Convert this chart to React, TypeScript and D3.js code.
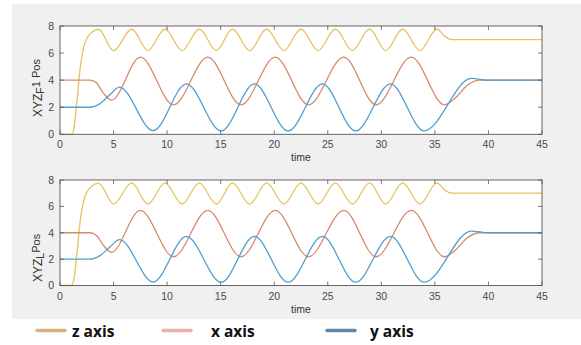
import React from "react";
import * as d3 from "d3";

// ---- data (time, value) ----
const zSeries: [number, number][] = [
  [0, 0], [1.1, 0], [1.3, 0.5], [1.6, 2.6], [1.9, 5.0], [2.2, 6.4], [2.6, 7.2], [3.0, 7.55], [3.6, 7.76],
  [5.0, 6.18], [6.7, 7.78], [8.2, 6.18], [9.8, 7.78], [11.4, 6.18], [13.0, 7.78], [14.6, 6.18],
  [16.1, 7.78], [17.7, 6.18], [19.3, 7.78], [20.9, 6.18], [22.5, 7.78], [24.1, 6.18], [25.7, 7.78],
  [27.3, 6.18], [28.9, 7.78], [30.4, 6.18], [32.0, 7.78], [33.6, 6.18], [35.2, 7.78], [35.9, 7.25],
  [36.6, 7.0], [45, 7.0],
];
const xSeries: [number, number][] = [
  [0, 4], [2.8, 4], [3.4, 3.8], [4.0, 3.1], [4.8, 2.52], [7.5, 5.7], [10.6, 2.18], [13.8, 5.7],
  [16.9, 2.18], [20.1, 5.7], [23.2, 2.18], [26.5, 5.7], [29.5, 2.18], [32.8, 5.7], [35.9, 2.18],
  [37.0, 2.75], [38.0, 3.6], [39.2, 4.0], [45, 4.0],
];
const ySeries: [number, number][] = [
  [0, 2], [2.8, 2], [3.7, 2.25], [4.7, 2.95], [5.55, 3.48], [8.7, 0.27], [11.8, 3.72], [15.05, 0.25],
  [18.15, 3.72], [21.3, 0.25], [24.5, 3.72], [27.6, 0.25], [30.85, 3.72], [34.0, 0.25], [38.4, 4.13],
  [40.0, 4.0], [45, 4.0],
];
const xTicks = [0, 5, 10, 15, 20, 25, 30, 35, 40, 45];
const yTicks = [0, 2, 4, 6, 8];
const seriesNames = ["z axis", "x axis", "y axis"];
const lineColors = ["#e6c35e", "#d98a6c", "#4f9fcf"];
const legendColors = ["#d6b57c", "#ecb0a8", "#5b88ad"];

const W = 581;
const H = 345;
const LEFT = 60;
const RIGHT = 542;

const panels = [
  { top: 26, bottom: 134.3, sub: "F", rest: "1 Pos", labelY: 117, tickY: 148, timeY: 160.5 },
  { top: 180, bottom: 285.5, sub: "L", rest: "Pos", labelY: 282, tickY: 300, timeY: 313 },
];

function Panel({ p }: { p: typeof panels[number] }) {
  const x = d3.scaleLinear().domain([0, 45]).range([LEFT, RIGHT]);
  const y = d3.scaleLinear().domain([0, 8]).range([p.bottom, p.top]);
  const line = d3
    .line<[number, number]>()
    .x((d) => x(d[0]))
    .y((d) => y(d[1]))
    .curve(d3.curveMonotoneX);
  const data = [zSeries, xSeries, ySeries];
  const tl = 4;
  const font = "'Liberation Sans', Arial, sans-serif";
  return (
    <g>
      <rect x={LEFT} y={p.top} width={RIGHT - LEFT} height={p.bottom - p.top} fill="#ffffff" />
      {data.map((d, i) => (
        <path key={i} d={line(d) || ""} fill="none" stroke={lineColors[i]} strokeWidth={1.3} />
      ))}
      <rect x={LEFT} y={p.top} width={RIGHT - LEFT} height={p.bottom - p.top} fill="none" stroke="#555" strokeWidth={0.9} />
      {xTicks.map((t) => (
        <g key={"x" + t}>
          <line x1={x(t)} x2={x(t)} y1={p.bottom} y2={p.bottom - tl} stroke="#555" strokeWidth={0.8} />
          <line x1={x(t)} x2={x(t)} y1={p.top} y2={p.top + tl} stroke="#555" strokeWidth={0.8} />
          <text x={x(t)} y={p.tickY} textAnchor="middle" fontFamily={font} fontSize={10.5} fill="#4a4a4a">
            {t}
          </text>
        </g>
      ))}
      {yTicks.map((t) => (
        <g key={"y" + t}>
          <line x1={LEFT} x2={LEFT + tl} y1={y(t)} y2={y(t)} stroke="#555" strokeWidth={0.8} />
          <line x1={RIGHT} x2={RIGHT - tl} y1={y(t)} y2={y(t)} stroke="#555" strokeWidth={0.8} />
          <text x={54} y={y(t)} dy="0.36em" textAnchor="end" fontFamily={font} fontSize={10.5} fill="#4a4a4a">
            {t}
          </text>
        </g>
      ))}
      <text x={(LEFT + RIGHT) / 2} y={p.timeY} textAnchor="middle" fontFamily={font} fontSize={10.5} fill="#333">
        time
      </text>
      <text
        transform={`translate(41.5,${p.labelY}) rotate(-90)`}
        fontFamily={font}
        fontSize={12}
        fill="#333"
      >
        XYZ
        <tspan fontSize={10.5} dy={2.5}>{p.sub}</tspan>
        <tspan fontSize={11} dy={-4.5}>{p.rest}</tspan>
      </text>
    </g>
  );
}

export default function App() {
  const legendX = [37, 163, 327];
  const legendTextX = [72, 211, 370];
  return (
    <svg width={W} height={H} style={{ position: "absolute", left: 0, top: 0, background: "#fff" }}>
      <rect x={0} y={0} width={W} height={H} fill="#ffffff" />
      <rect x={12} y={4} width={W - 12} height={315} fill="#f0f0f0" />
      {panels.map((p, i) => (
        <Panel key={i} p={p} />
      ))}
      {seriesNames.map((n, i) => (
        <g key={n}>
          <line x1={legendX[i]} x2={legendX[i] + 28} y1={330.5} y2={330.5} stroke={legendColors[i]} strokeWidth={3.5} strokeLinecap="round" />
          <text x={legendTextX[i]} y={336.5} fontFamily="'Open Sans', 'Noto Sans', sans-serif" fontWeight="bold" fontSize={15.5} fill="#111">
            {n}
          </text>
        </g>
      ))}
    </svg>
  );
}
